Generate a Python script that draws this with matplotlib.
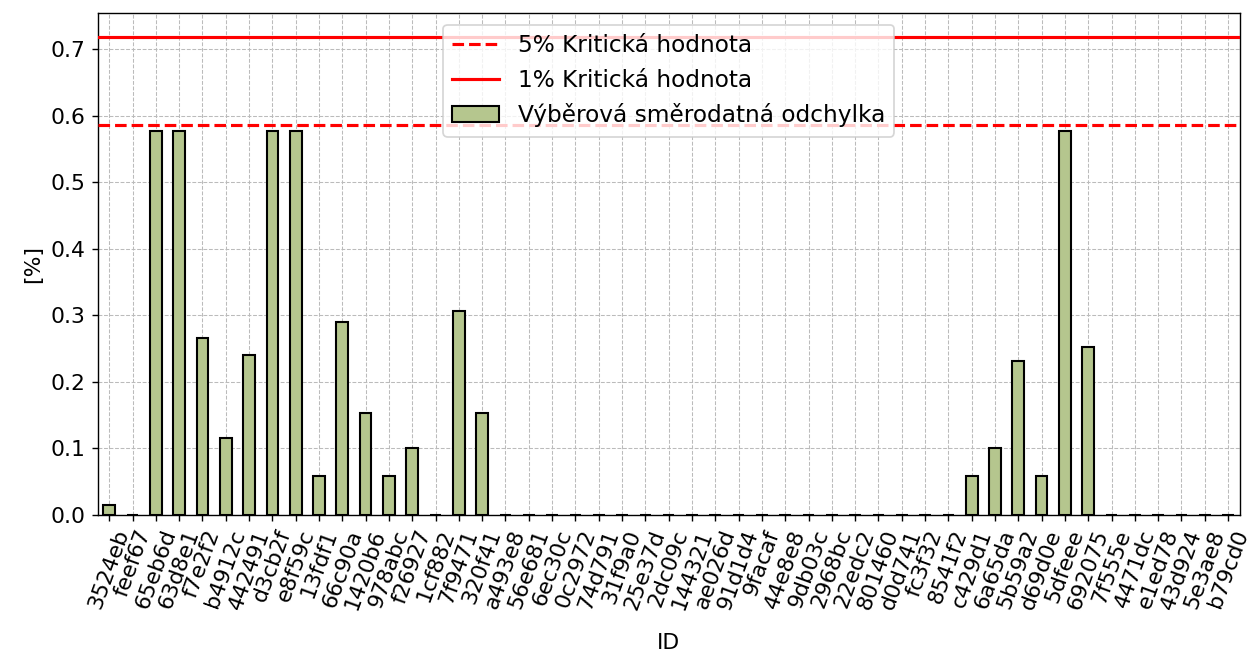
import numpy as np
import pandas as pd
import matplotlib
matplotlib.use("Agg")
import matplotlib.pyplot as plt

ids = ["3524eb", "feef67", "65eb6d", "63d8e1", "f7e2f2", "b4912c", "442491", "d3cb2f",
       "e8f59c", "13fdf1", "66c90a", "1420b6", "978abc", "f26927", "1cf882", "7f9471",
       "320f41", "a493e8", "56e681", "6ec30c", "0c2972", "74d791", "31f9a0", "25e37d",
       "2dc09c", "144321", "ae026d", "91d1d4", "9facaf", "44e8e8", "9db03c", "2968bc",
       "22edc2", "801460", "d0d741", "fc3f32", "8541f2", "c429d1", "6a65da", "5b59a2",
       "d69d0e", "5dfeee", "692075", "7f555e", "4471dc", "e1ed78", "43d924", "5e3ae8",
       "b79cd0"]
std_vals = [0.015, 0.0, 0.577, 0.577, 0.265, 0.115, 0.240, 0.577,
            0.577, 0.058, 0.289, 0.153, 0.058, 0.100, 0.0, 0.306,
            0.153, 0.0, 0.0, 0.0, 0.0, 0.0, 0.0, 0.0,
            0.0, 0.0, 0.0, 0.0, 0.0, 0.0, 0.0, 0.0,
            0.0, 0.0, 0.0, 0.0, 0.0, 0.058, 0.100, 0.231,
            0.058, 0.577, 0.252, 0.0, 0.0, 0.0, 0.0, 0.0,
            0.0]
crit_5 = 0.586
crit_1 = 0.718

plt.rcParams["font.size"] = 12.6

df = pd.DataFrame({"ID": ids, "std": std_vals}).set_index("ID")

fig, ax = plt.subplots(figsize=(10.008, 5.24), dpi=125)
plt.subplots_adjust(left=0.078, right=0.991, top=0.980, bottom=0.214)

df["std"].plot(kind="bar", ax=ax, color="#b5c68e", edgecolor="black", linewidth=1.2,
               label="Výběrová směrodatná odchylka", zorder=3)
ax.axhline(crit_5, color="red", linestyle="--", linewidth=1.8, label="5% Kritická hodnota", zorder=4)
ax.axhline(crit_1, color="red", linestyle="-", linewidth=1.8, label="1% Kritická hodnota", zorder=4)

ax.set_ylim(0, crit_1 * 1.05)
ax.set_xlabel("ID", labelpad=12)
ax.set_ylabel("[%]")
ax.grid(True, linestyle="--", color="#bbbbbb", linewidth=0.6, zorder=0)
ax.set_axisbelow(True)
plt.setp(ax.get_xticklabels(), rotation=70)

h, l = ax.get_legend_handles_labels()
order = [l.index("5% Kritická hodnota"), l.index("1% Kritická hodnota"),
         l.index("Výběrová směrodatná odchylka")]
ax.legend([h[i] for i in order], [l[i] for i in order], loc="upper center",
          fontsize=13.4)

fig.savefig("out.png", dpi=125)
